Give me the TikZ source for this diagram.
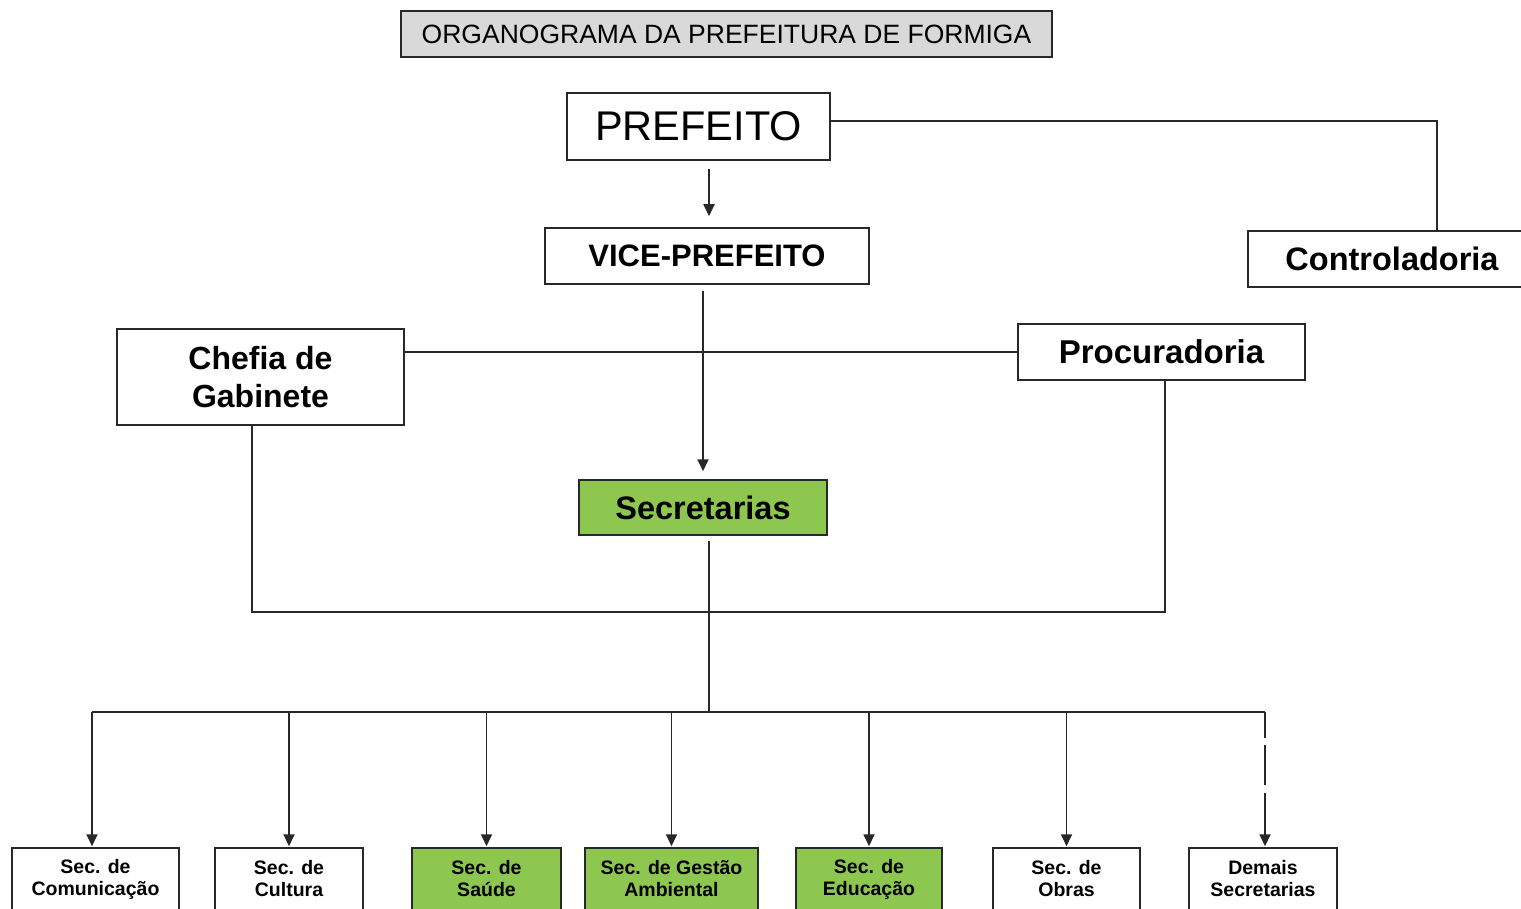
\documentclass[tikz,border=0pt]{standalone}
\usepackage{fontspec}
\setmainfont{Liberation Sans}
\usetikzlibrary{arrows.meta}
\definecolor{linec}{RGB}{40,40,40}
\definecolor{titlegray}{RGB}{217,217,217}
\definecolor{secgreen}{RGB}{141,199,80}
\begin{document}
\begin{tikzpicture}[x=1pt,y=-1pt,
  box/.style={draw=linec, line width=1.5pt, fill=white, inner sep=0pt, align=center},
  gbox/.style={box, fill=secgreen},
  conn/.style={draw=linec, line width=1.8pt},
  arr/.style={conn, -{Triangle[length=12pt,width=11pt]}},
  small/.style={font=\bfseries\fontsize{19.5}{22}\selectfont, minimum height=62pt}]
\clip (0,0) rectangle (1521,909);
\fill[white] (0,0) rectangle (1521,909);

% title
\node[box, fill=titlegray, minimum width=651pt, minimum height=46pt,
      font=\fontsize{26.5}{30}\selectfont] (title) at (726.5,34) {ORGANOGRAMA DA PREFEITURA DE FORMIGA};

% main boxes
\node[box, minimum width=263pt, minimum height=67pt, font=\fontsize{41.5}{46}\selectfont] (pref) at (698.5,126.5) {PREFEITO};
\node[box, minimum width=324pt, minimum height=56pt, font=\bfseries\fontsize{31}{36}\selectfont] (vice) at (707,256) {VICE-PREFEITO};
\node[box, minimum width=288pt, minimum height=56pt, font=\bfseries\fontsize{32.5}{38}\selectfont] (ctrl) at (1392,259) {Controladoria};
\node[box, minimum width=287pt, minimum height=96pt, font=\bfseries\fontsize{32}{38}\selectfont] (chefia) at (260.5,377) {Chefia de\\Gabinete};
\node[box, minimum width=287pt, minimum height=56pt, font=\bfseries\fontsize{33}{38}\selectfont] (proc) at (1161.5,352) {Procuradoria};
\node[gbox, minimum width=248pt, minimum height=55pt, font=\bfseries\fontsize{32.5}{36}\selectfont] (sec) at (703,507.5) {Secretarias};

% bottom boxes
\node[box, small, minimum width=167pt] (b1) at (95.5,879) {Sec. de\\Comunicação};
\node[box, small, minimum width=148pt] (b2) at (289,879) {Sec. de\\Cultura};
\node[gbox, small, minimum width=149pt] (b3) at (486.5,879) {Sec. de\\Saúde};
\node[gbox, small, minimum width=173pt] (b4) at (671.5,879) {Sec. de Gestão\\Ambiental};
\node[gbox, small, minimum width=146pt] (b5) at (869,879) {Sec. de\\Educação};
\node[box, small, minimum width=147pt] (b6) at (1066.5,879) {Sec. de\\Obras};
\node[box, small, minimum width=148pt] (b7) at (1263,879) {Demais\\Secretarias};

% junction coordinates
\coordinate (j1) at (709,612);
\coordinate (j2) at (709,712);

% connectors
\draw[arr, shorten <=8pt, shorten >=11pt] ([xshift=10.5pt]pref.south) -- ([xshift=10.5pt]pref.south |- vice.north);
\draw[conn] ([yshift=5.5pt]pref.east) -| ([xshift=45pt]ctrl.north);
\draw[arr, shorten <=6pt, shorten >=8pt] (sec.north |- vice.south) -- (sec.north);
\draw[conn] (proc.west) -- (proc.west -| chefia.east);
\draw[conn] ([xshift=-8.5pt]chefia.south) |- (j1) -| ([xshift=3.5pt]proc.south);
\draw[conn] ([xshift=6pt]sec.south) ++(0,5) -- (j2);
\draw[conn] ([xshift=-3.5pt]b1.north |- j2) -- ([xshift=2pt]b7.north |- j2);
\draw[arr, shorten >=1pt] ([xshift=-3.5pt]b1.north |- j2) -- ([xshift=-3.5pt]b1.north);
\foreach \b in {b2,b3,b4,b5,b6}
  \draw[arr, shorten >=1pt] (\b.north |- j2) -- (\b.north);
\draw[arr, shorten >=1pt, dash pattern=on 26pt off 7pt on 40pt off 8pt on 80pt]
  ([xshift=2pt]b7.north |- j2) -- ([xshift=2pt]b7.north);
\end{tikzpicture}
\end{document}
